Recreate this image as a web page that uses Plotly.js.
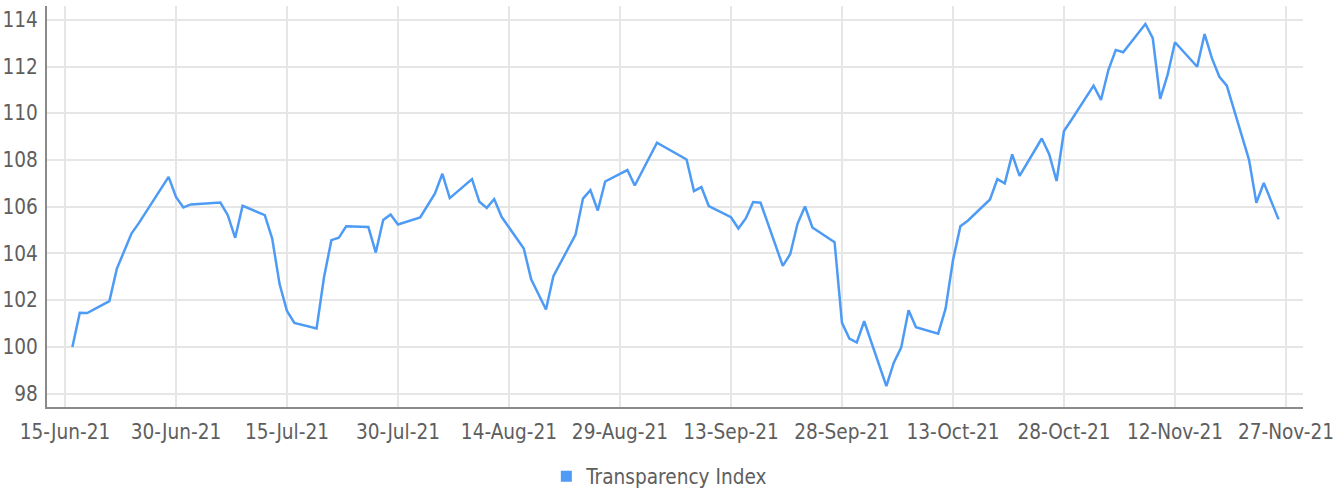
<!DOCTYPE html>
<html>
<head>
<meta charset="utf-8">
<script src="https://cdn.plot.ly/plotly-3.0.1.min.js"></script>
<style>
  html, body { margin: 0; padding: 0; background: #fff; }
  #chart { width: 1344px; height: 491px; }
</style>
</head>
<body>
<div id="chart"></div>
<script>
const seriesName = "Transparency Index";

const dates = [
  "2021-06-16","2021-06-17","2021-06-18","2021-06-21","2021-06-22","2021-06-23","2021-06-24","2021-06-25",
  "2021-06-28","2021-06-29","2021-06-30","2021-07-01","2021-07-02","2021-07-06","2021-07-07","2021-07-08",
  "2021-07-09","2021-07-12","2021-07-13","2021-07-14","2021-07-15","2021-07-16","2021-07-19","2021-07-20",
  "2021-07-21","2021-07-22","2021-07-23","2021-07-26","2021-07-27","2021-07-28","2021-07-29","2021-07-30",
  "2021-08-02","2021-08-03","2021-08-04","2021-08-05","2021-08-06","2021-08-09","2021-08-10","2021-08-11",
  "2021-08-12","2021-08-13","2021-08-16","2021-08-17","2021-08-18","2021-08-19","2021-08-20","2021-08-23",
  "2021-08-24","2021-08-25","2021-08-26","2021-08-27","2021-08-30","2021-08-31","2021-09-01","2021-09-02",
  "2021-09-03","2021-09-07","2021-09-08","2021-09-09","2021-09-10","2021-09-13","2021-09-14","2021-09-15",
  "2021-09-16","2021-09-17","2021-09-20","2021-09-21","2021-09-22","2021-09-23","2021-09-24","2021-09-27",
  "2021-09-28","2021-09-29","2021-09-30","2021-10-01","2021-10-04","2021-10-05","2021-10-06","2021-10-07",
  "2021-10-08","2021-10-11","2021-10-12","2021-10-13","2021-10-14","2021-10-15","2021-10-18","2021-10-19",
  "2021-10-20","2021-10-21","2021-10-22","2021-10-25","2021-10-26","2021-10-27","2021-10-28","2021-10-29",
  "2021-11-01","2021-11-02","2021-11-03","2021-11-04","2021-11-05","2021-11-08","2021-11-09","2021-11-10",
  "2021-11-11","2021-11-12","2021-11-15","2021-11-16","2021-11-17","2021-11-18","2021-11-19","2021-11-22",
  "2021-11-23","2021-11-24","2021-11-26"
];

const values = [
  100.00,101.46,101.45,101.96,103.34,104.07,104.86,105.31,
  106.83,107.28,106.42,105.97,106.10,106.18,105.64,104.67,
  106.04,105.64,104.64,102.69,101.54,101.03,100.79,102.97,
  104.57,104.67,105.16,105.13,104.04,105.43,105.67,105.24,
  105.54,106.07,106.57,107.41,106.37,107.18,106.21,105.95,
  106.33,105.57,104.21,102.89,102.25,101.60,103.03,104.81,
  106.35,106.71,105.84,107.08,107.57,106.91,107.52,108.15,
  108.74,108.02,106.67,106.84,106.03,105.55,105.07,105.50,
  106.20,106.17,103.47,103.97,105.28,106.01,105.11,104.48,
  101.03,100.36,100.19,101.10,98.32,99.33,99.97,101.57,
  100.84,100.57,101.64,103.71,105.17,105.40,106.31,107.18,
  107.00,108.24,107.32,108.92,108.25,107.10,109.24,109.71,
  111.18,110.57,111.85,112.71,112.61,113.82,113.21,110.62,
  111.64,113.04,111.99,113.39,112.35,111.56,111.18,108.02,
  106.17,107.02,105.46
];

const yTicks = [98, 100, 102, 104, 106, 108, 110, 112, 114];

const lineColor = "#4d9bf5";
const textColor = "#5e5e5e";
const fontFamily = "'DejaVu Sans Condensed', 'DejaVu Sans', sans-serif";
const fontSize = 20.6;

const traces = [
  {
    type: "scatter",
    mode: "lines",
    x: dates,
    y: values,
    name: seriesName,
    legendgroup: "ti",
    showlegend: false,
    line: { color: lineColor, width: 2.5 },
    hoverinfo: "x+y"
  },
  {
    type: "scatter",
    mode: "markers",
    x: [null],
    y: [null],
    name: seriesName,
    legendgroup: "ti",
    showlegend: true,
    marker: { symbol: "square", color: lineColor, size: 11 },
    hoverinfo: "skip"
  }
];

const layout = {
  width: 1344,
  height: 491,
  margin: { l: 47, r: 41, t: 6, b: 84, pad: 0 },
  paper_bgcolor: "#ffffff",
  plot_bgcolor: "#ffffff",
  font: { family: fontFamily, size: fontSize, color: textColor },
  showlegend: true,
  legend: {
    orientation: "h",
    xref: "container",
    yref: "container",
    x: 0.4065,
    xanchor: "left",
    y: 0.03,
    yanchor: "middle",
    font: { family: fontFamily, size: fontSize, color: textColor },
    itemwidth: 30,
    bgcolor: "rgba(0,0,0,0)"
  },
  xaxis: {
    type: "date",
    range: ["2021-06-12 13:40", "2021-11-29 07:12"],
    tick0: "2021-06-15",
    dtick: 15 * 86400000,
    tickformat: "%d-%b-%y",
    showgrid: true,
    gridcolor: "#e6e6e6",
    gridwidth: 2,
    showline: true,
    linecolor: "#8a8a8a",
    linewidth: 2,
    ticks: "",
    ticklabelstandoff: 5,
    tickfont: { family: fontFamily, size: fontSize, color: textColor },
    zeroline: false,
    fixedrange: true
  },
  yaxis: {
    range: [97.43, 114.59],
    tickvals: yTicks,
    ticktext: yTicks.map(String),
    showgrid: true,
    gridcolor: "#e6e6e6",
    gridwidth: 2,
    showline: true,
    linecolor: "#8a8a8a",
    linewidth: 2,
    ticks: "",
    ticklabelstandoff: 3,
    tickfont: { family: fontFamily, size: fontSize, color: textColor },
    zeroline: false,
    fixedrange: true
  }
};

Plotly.newPlot("chart", traces, layout, { displayModeBar: false, staticPlot: true });
</script>
</body>
</html>
